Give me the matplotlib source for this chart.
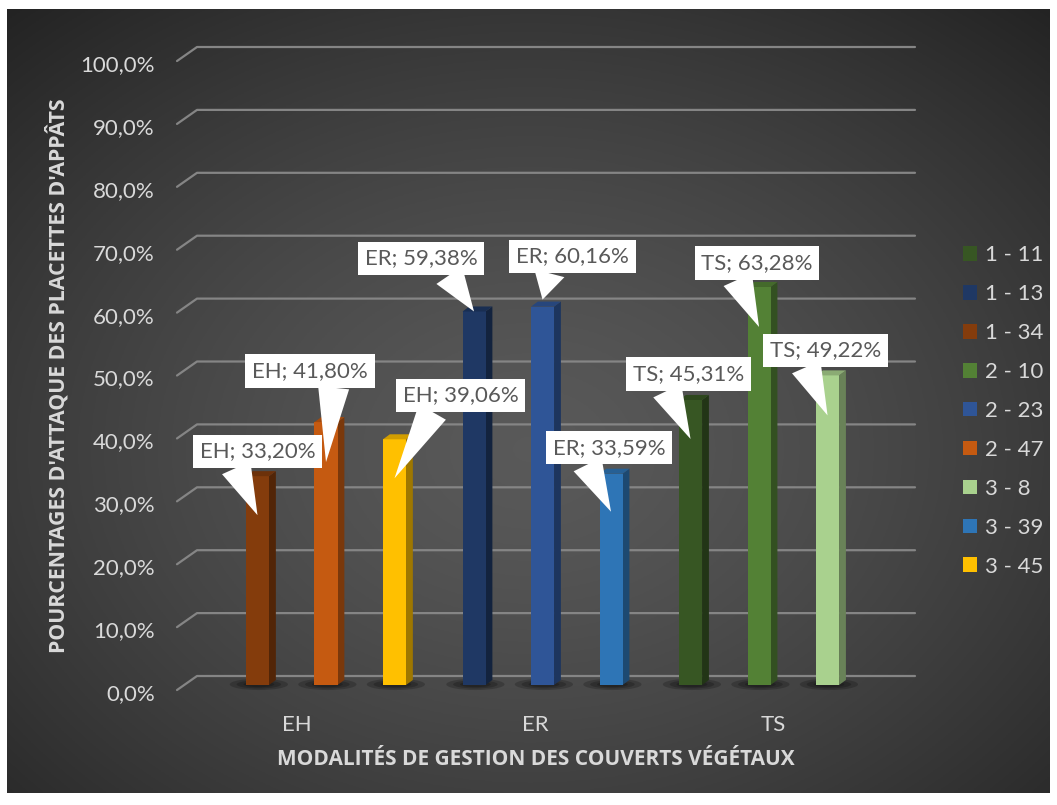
import numpy as np
import matplotlib
matplotlib.use('Agg')
import matplotlib.pyplot as plt
from matplotlib.patches import Polygon, Ellipse, Patch
from matplotlib.colors import to_rgb
from matplotlib import transforms

plt.rcParams['font.family'] = ['Lato', 'DejaVu Sans']

# ---- data ----
categories = ['EH', 'ER', 'TS']
series_names = ['1 - 11', '1 - 13', '1 - 34', '2 - 10', '2 - 23',
                '2 - 47', '3 - 8', '3 - 39', '3 - 45']
series_colors = ['#375623', '#1F3864', '#843C0C', '#538135', '#2F5597',
                 '#C55A11', '#A9D18E', '#2E75B6', '#FFC000']

eh_series = ['1 - 34', '2 - 47', '3 - 45']
eh_values = [33.20, 41.80, 39.06]
er_series = ['1 - 13', '2 - 23', '3 - 39']
er_values = [59.38, 60.16, 33.59]
ts_series = ['1 - 11', '2 - 10', '3 - 8']
ts_values = [45.31, 63.28, 49.22]

y_ticks = [0, 10, 20, 30, 40, 50, 60, 70, 80, 90, 100]

# callout layout in pixels: tip drop below bar top, box dx, box dy, wedge anchor
callout_layout = [
    (39, 0, 64, 0.29), (40, -16, 91, 0.71), (39, 66, 83, 0.29),
    (0, -53, 53, 0.71), (-7, 30, 43, 0.31), (38, -2, 64, 0.28),
    (39, -2, 65, 0.28), (40, -2, 64, 0.30), (40, -2, 65, 0.30),
]

W, H = 1057, 805
PX_X = 68.5          # pixels per x unit (bar spacing)
PX_Y = 6.29          # pixels per percent
GROUP_STEP = 3.161
BAR_W = 0.336
DEPTH_X, DEPTH_Y = 0.10, 0.8
FS = 16
TXT = '#d9d9d9'

fig = plt.figure(figsize=(W / 100, H / 100), dpi=100, facecolor='white')

# background panel with a soft radial gradient
bg = fig.add_axes([7 / W, 12 / H, (1050 - 7) / W, (793 - 9) / H], zorder=-5)
gx, gy = np.meshgrid(np.linspace(7, 1050, 400), np.linspace(9, 793, 300))
r = np.sqrt(((gx - 530) / 580) ** 2 + ((gy - 450) / 440) ** 2)
shade = np.clip(0.35 - 0.14 * r ** 1.4, 0.13, 1)
bg.imshow(np.dstack([shade] * 3), extent=(0, 1, 0, 1), aspect='auto', origin='upper')
bg.axis('off')

# plotting axes: front bottom of bars at y pixel 685
ax_l, ax_r, ax_t, ax_b = 177, 915, 40, 700
ax = fig.add_axes([ax_l / W, 1 - ax_b / H, (ax_r - ax_l) / W, (ax_b - ax_t) / H])
ax.set_facecolor('none')
x_origin = 326
ax.set_xlim((ax_l - x_origin) / PX_X, (ax_r - x_origin) / PX_X)
ax.set_ylim(-(ax_b - 685) / PX_Y, (685 - ax_t) / PX_Y)
for s in ax.spines.values():
    s.set_visible(False)

# perspective gridlines: short diagonal then back-wall line
x_front = (177 - x_origin) / PX_X
x_back = (197 - x_origin) / PX_X
x_end = (915 - x_origin) / PX_X
for v in y_ticks:
    ax.plot([x_front, x_back, x_end], [v - 0.8, v + 1.43, v + 1.43],
            color='#858585', lw=1.6, solid_capstyle='round', zorder=1, clip_on=False)

# bars
groups = [(eh_series, eh_values), (er_series, er_values), (ts_series, ts_values)]
bar_idx = 0
for g, (names, vals) in enumerate(groups):
    for j, (name, v) in enumerate(zip(names, vals)):
        xc = g * GROUP_STEP + (j - 1)
        col = np.array(to_rgb(series_colors[series_names.index(name)]))
        x0, x1 = xc - BAR_W / 2, xc + BAR_W / 2
        # floor shadow
        for sw, sh in [(0.85, 1.8), (0.65, 1.3), (0.45, 0.9)]:
            ax.add_patch(Ellipse((xc + 0.02, 0.1), sw, sh, fc='black', ec='none',
                                 alpha=0.2, zorder=2))
        ax.bar(xc, v, width=BAR_W, color=col, zorder=4, linewidth=0)
        ax.add_patch(Polygon([(x1, 0), (x1 + DEPTH_X, DEPTH_Y), (x1 + DEPTH_X, v + DEPTH_Y), (x1, v)],
                             closed=True, fc=col * 0.62, ec='none', zorder=3))
        ax.add_patch(Polygon([(x0, v), (x1, v), (x1 + DEPTH_X, v + DEPTH_Y), (x0 + DEPTH_X, v + DEPTH_Y)],
                             closed=True, fc=col * 0.82, ec='none', zorder=4))

        drop, dx, dy, rx = callout_layout[bar_idx]
        label = f"{categories[g]}; {v:.2f}%".replace('.', ',')
        ax.annotate(label, xy=(xc, v - drop / PX_Y), xytext=(dx, dy),
                    textcoords='offset pixels', ha='center', va='center',
                    fontsize=FS, color='#595959', zorder=10,
                    bbox=dict(boxstyle='square,pad=0.3', fc='white', ec='none'),
                    arrowprops=dict(arrowstyle='wedge,tail_width=1.4', fc='white', ec='none',
                                    relpos=(rx, 0), shrinkA=0, shrinkB=0))
        bar_idx += 1

# y tick labels
ax.set_yticks(y_ticks)
ax.set_yticklabels([f"{v:.1f}%".replace('.', ',') for v in y_ticks])
ax.tick_params(axis='y', length=0, pad=16, labelsize=FS, labelcolor=TXT)
shift = transforms.ScaledTranslation(0, -0.07, fig.dpi_scale_trans)
for lbl in ax.get_yticklabels():
    lbl.set_transform(lbl.get_transform() + shift)

# category labels
tick_x = [1.0993 * g * GROUP_STEP - 0.423 for g in range(len(categories))]
ax.set_xticks(tick_x)
ax.set_xticklabels(categories)
ax.tick_params(axis='x', length=0, pad=11, labelsize=FS, labelcolor=TXT)

# axis titles
title_font = ['Open Sans', 'DejaVu Sans']
fig.text(536 / W, 1 - 759 / H, 'MODALITÉS DE GESTION DES COUVERTS VÉGÉTAUX',
         ha='center', va='center', fontsize=15, fontweight='bold', color=TXT,
         family=title_font)
fig.text(58 / W, 1 - 376 / H, "POURCENTAGES D'ATTAQUE DES PLACETTES D'APPÂTS",
         ha='center', va='center', rotation=90, fontsize=15.3, fontweight='bold', color=TXT,
         family=title_font)

# legend
handles = [Patch(facecolor=c, edgecolor='none') for c in series_colors]
fig.legend(handles, series_names, loc='center left', bbox_to_anchor=(963 / W, 1 - 411 / H),
           frameon=False, fontsize=FS, labelcolor=TXT, handlelength=0.63,
           handleheight=0.63, handletextpad=0.35, labelspacing=0.85,
           borderpad=0, borderaxespad=0)

fig.savefig('out.png', dpi=100, facecolor='white')
